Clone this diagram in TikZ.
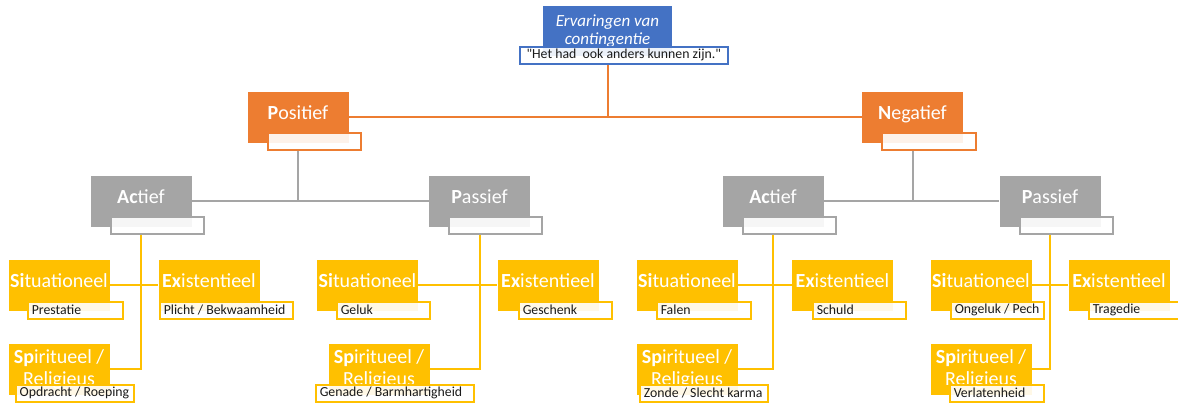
\documentclass[tikz,border=0pt]{standalone}
\usepackage{fontspec}
\setmainfont{Carlito}
\newcommand\dq{\XeTeXglyph\XeTeXcharglyph"22\relax}
\definecolor{kblue}{HTML}{4472C4}
\definecolor{korange}{HTML}{ED7D31}
\definecolor{kgray}{HTML}{A5A5A5}
\definecolor{kyellow}{HTML}{FFC000}
\definecolor{kink}{HTML}{1A1A1A}
\tikzset{
    box/.style={fill=#1, text=white, minimum width=101pt, minimum height=51pt, inner sep=0pt,
        font=\fontsize{20}{22}\selectfont, text height=14pt, text depth=9pt},
    twobox/.style={box=#1, text height={}, text depth={}, align=center},
    tag/.style={draw=#1, line width=1.5pt, fill=white, fill opacity=0.9, text opacity=1,
        anchor=north west, minimum height=17pt, inner xsep=4pt, inner ysep=0pt,
        text=kink, font=\fontsize{13.8}{15}\selectfont},
    link/.style={draw=#1, line width=2pt},
}

\begin{document}
\begin{tikzpicture}[x=1pt, y=-1pt]
    \useasboundingbox (0,0) rectangle (1178,405);
    % top
    \node[box=kblue, minimum width=129pt, minimum height=50pt, text height={}, text depth={},
        align=center, font=\fontsize{17}{18}\selectfont\itshape] (top) at (607.5,31)
        {Ervaringen van\\contingentie};
    \node[tag=kblue] (top-t) at (519,46) {\makebox[200pt]{\dq Het had~ ook anders kunnen zijn.\dq}};
    % positief / negatief
    \node[box=korange] (pos) at (298,117) {\textbf{P}ositief};
    \node[tag=korange] (pos-t) at (267,132) {\makebox[85pt]{}};
    \node[box=korange] (neg) at (912.5,117) {\textbf{N}egatief};
    \node[tag=korange] (neg-t) at (881,132) {\makebox[86pt]{}};
    \draw[link=korange] (top |- top-t.south) -- (top |- pos);
    \draw[link=korange] (pos.east) -- (neg.west);
    % actief / passief
    \foreach \n/\cx/\t/\lx in {a1/141/{\textbf{Ac}tief}/110, p1/479.5/{\textbf{P}assief}/448,
        a2/773/{\textbf{Ac}tief}/742, p2/1050/{\textbf{P}assief}/1019}{
        \node[box=kgray] (\n) at (\cx,201) {\t};
        \node[tag=kgray] (\n-t) at (\lx,216) {\makebox[85pt]{}};
    }
    \draw[link=kgray] (pos |- pos-t.south) -- (pos |- a1);
    \draw[link=kgray] (a1.east) -- (p1.west);
    \draw[link=kgray] (neg |- neg-t.south) -- (neg |- a2);
    \draw[link=kgray] (a2.east) -- (p2.west);
    % situationeel / existentieel / spiritueel
    \foreach \s/\n/\cx/\cy/\t/\lx/\ly/\lw/\l in {
        box/sit1/59/285/{\textbf{Si}tuationeel}/27/301/87/Prestatie,
        box/ex1/209/285/{\textbf{Ex}istentieel}/159/301/125/{Plicht / Bekwaamheid},
        twobox/sp1/59/369/{\textbf{Sp}iritueel /\\Religieus}/15/384/110/{Opdracht / Roeping},
        box/sit2/367.5/285/{\textbf{Si}tuationeel}/336/301/85/Geluk,
        box/ex2/548/285/{\textbf{Ex}istentieel}/518/301/85/Geschenk,
        twobox/sp2/379/369/{\textbf{Sp}iritueel /\\Religieus}/315/384/150/{Genade / Barmhartigheid},
        box/sit3/687/285/{\textbf{Si}tuationeel}/656/301/86/Falen,
        box/ex3/842.5/285/{\textbf{Ex}istentieel}/812/301/85/Schuld,
        twobox/sp3/687/369/{\textbf{Sp}iritueel /\\Religieus}/639/384/120/{Zonde / Slecht karma},
        box/sit4/981/285/{\textbf{Si}tuationeel}/950/301/85/{Ongeluk / Pech},
        box/ex4/1119/285/{\textbf{Ex}istentieel}/1088/301/104/Tragedie,
        twobox/sp4/981/369/{\textbf{Sp}iritueel /\\Religieus}/949/384/86/Verlatenheid}{
        \node[\s=kyellow] (\n) at (\cx,\cy) {\t};
        \node[tag=kyellow] (\n-t) at (\lx,\ly) {\makebox[\lw pt][l]{\l}};
    }
    \foreach \g/\i in {a1/1, p1/2, a2/3, p2/4}{
        \draw[link=kyellow] (\g |- \g-t.south) |- (sp\i.east);
        \draw[link=kyellow] (sit\i.east) -- (ex\i.west);
    }
\end{tikzpicture}
\end{document}
